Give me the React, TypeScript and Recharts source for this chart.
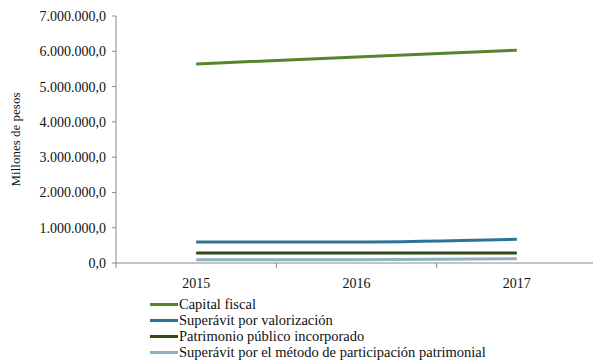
import React from 'react';
import { LineChart, Line, XAxis, YAxis, Label } from 'recharts';

const years = ['2015', '2016', '2017'];
const capitalFiscal = [5640000, 5840000, 6030000];
const superavitValorizacion = [595000, 595000, 670000];
const patrimonioIncorporado = [280000, 280000, 280000];
const superavitMetodo = [90000, 95000, 120000];
const yTicks = [0, 1000000, 2000000, 3000000, 4000000, 5000000, 6000000, 7000000];

const series = [
  { key: 'capital', name: 'Capital fiscal', color: '#56862A', values: capitalFiscal },
  { key: 'valorizacion', name: 'Superávit por valorización', color: '#2C7396', values: superavitValorizacion },
  { key: 'patrimonio', name: 'Patrimonio público incorporado', color: '#2F4A15', values: patrimonioIncorporado },
  { key: 'metodo', name: 'Superávit por el método de participación patrimonial', color: '#8DB3C2', values: superavitMetodo },
];

const data = years.map((year, i) => {
  const row: any = { idx: i, year };
  series.forEach((s) => { row[s.key] = s.values[i]; });
  return row;
});

const W = 593;
const H = 364;
const M = { top: 16, right: -4, left: 0, bottom: 71 };
const Y_WIDTH = 116;
const BAND = (W - M.left - Y_WIDTH - M.right) / years.length;
const FONT = '"Liberation Serif", "Times New Roman", serif';

const fmt = (v: number) => {
  const s = Math.round(v).toString().replace(/\B(?=(\d{3})+(?!\d))/g, '.');
  return s + ',0';
};

// labels sit between the boundary tick marks, like Excel's category axis
const XTick = (props: any) => {
  const { x, y, payload } = props;
  const i = payload.value + 0.5;
  if (i < 0 || i >= years.length) return null;
  return (
    <text x={x + BAND / 2} y={y + 18} textAnchor="middle" fontSize={14} fontFamily={FONT} fill="#111">
      {years[i]}
    </text>
  );
};

export default function App() {
  return (
    <div style={{ position: 'absolute', left: 0, top: 0, width: W, height: H, background: '#fff', fontFamily: FONT }}>
      <LineChart width={W} height={H} data={data} margin={M}>
        <XAxis
          dataKey="idx"
          type="number"
          domain={[-0.5, 2.5]}
          ticks={[-0.5, 0.5, 1.5, 2.5]}
          tick={<XTick />}
          tickLine={{ stroke: '#888' }}
          tickSize={5}
          axisLine={{ stroke: '#888' }}
          height={30}
          interval={0}
        />
        <YAxis
          width={Y_WIDTH}
          domain={[0, 7000000]}
          ticks={yTicks}
          tickFormatter={fmt}
          tick={{ fontSize: 14, fontFamily: FONT, fill: '#111' }}
          tickLine={{ stroke: '#888' }}
          tickSize={4}
          tickMargin={6}
          axisLine={{ stroke: '#888' }}
          interval={0}
        >
          <Label
            value="Millones de pesos"
            angle={-90}
            position="insideLeft"
            offset={15}
            style={{ fontSize: 13, fontFamily: FONT, fill: '#111', textAnchor: 'middle' }}
          />
        </YAxis>
        {series.map((s) => (
          <Line
            key={s.key}
            type="monotone"
            dataKey={s.key}
            name={s.name}
            stroke={s.color}
            strokeWidth={3}
            dot={false}
            isAnimationActive={false}
          />
        ))}
      </LineChart>
      <div style={{ position: 'absolute', left: 150, top: 296, fontFamily: FONT, fontSize: 14.5, color: '#111' }}>
        {series.map((s) => (
          <div key={s.key} style={{ display: 'flex', alignItems: 'center', height: 16, whiteSpace: 'nowrap' }}>
            <span style={{ display: 'inline-block', width: 28, height: 3, background: s.color, marginRight: 1 }} />
            <span>{s.name}</span>
          </div>
        ))}
      </div>
    </div>
  );
}
